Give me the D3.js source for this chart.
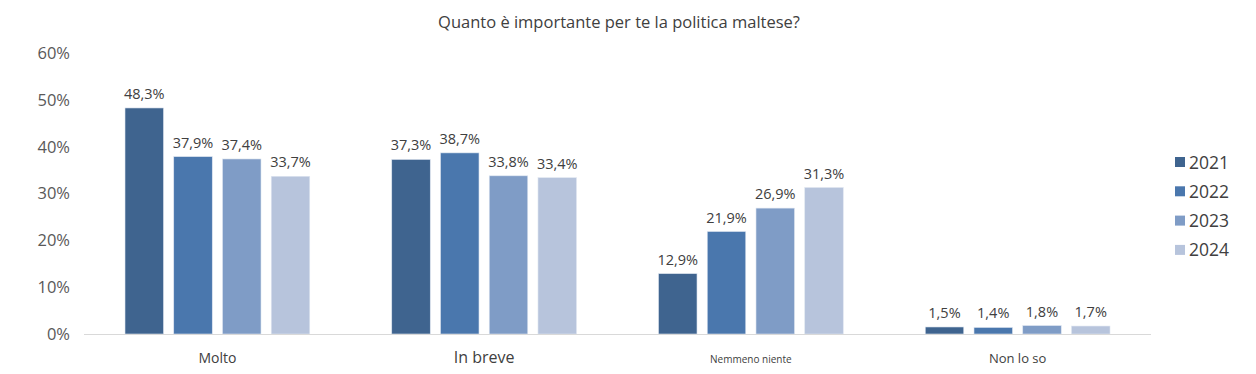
<!DOCTYPE html>
<html><head><meta charset="utf-8">
<script src="https://cdn.jsdelivr.net/npm/d3@7"></script>
<style>body{margin:0;background:#fff}svg{display:block;font-family:"Open Sans",sans-serif}</style>
</head><body><svg id="c" width="1256" height="374"></svg>
<script>
const categories = ["Molto", "In breve", "Nemmeno niente", "Non lo so"];
const years = ["2021", "2022", "2023", "2024"];
const v2021 = [48.3, 37.3, 12.9, 1.5];
const v2022 = [37.9, 38.7, 21.9, 1.4];
const v2023 = [37.4, 33.8, 26.9, 1.8];
const v2024 = [33.7, 33.4, 31.3, 1.7];
const yTicks = [0, 10, 20, 30, 40, 50, 60];
const catFontSizes = [14, 16, 10, 13];
const colors = ["#3F648F", "#4A77AD", "#7F9CC6", "#B7C4DC"];
const series = [v2021, v2022, v2023, v2024];

const svg = d3.select("#c");
const L = 84, R = 1151, T = 53.2, B = 334;
const x0 = d3.scaleBand().domain(categories).range([L, R]).padding(0);
const x1 = d3.scaleBand().domain(years).range([41, x0.bandwidth() - 41]).paddingInner(0.21).paddingOuter(0);
const y = d3.scaleLinear().domain([0, 60]).range([B, T]);
const fmt = v => d3.format(".1f")(v).replace(".", ",") + "%";

svg.append("text").attr("x", 619).attr("y", 28).attr("text-anchor", "middle")
  .attr("font-size", 16.5).attr("fill", "#404040").text("Quanto è importante per te la politica maltese?");

const yAxis = d3.axisLeft(y).tickValues(yTicks).tickSize(0).tickPadding(14).tickFormat(d => d + "%");
const ga = svg.append("g").attr("transform", `translate(${L},0)`).call(yAxis);
ga.select(".domain").remove();
ga.selectAll("text").attr("font-size", 16.5).attr("fill", "#595959").attr("font-family", "Open Sans, sans-serif");

const g = svg.append("g");
categories.forEach((c, ci) => {
  const gc = g.append("g").attr("transform", `translate(${x0(c)},0)`);
  years.forEach((yr, si) => {
    const v = series[si][ci];
    gc.append("rect").attr("x", x1(yr)).attr("y", y(v)).attr("width", x1.bandwidth())
      .attr("height", B - y(v)).attr("fill", colors[si]).attr("stroke", "#dfe6f0").attr("stroke-width", 0.6);
    gc.append("text").attr("x", x1(yr) + x1.bandwidth() / 2).attr("y", y(v) - 9)
      .attr("text-anchor", "middle").attr("font-size", 14.5).attr("fill", "#404040").text(fmt(v));
  });
  svg.append("text").attr("x", x0(c) + x0.bandwidth() / 2).attr("y", 363).attr("text-anchor", "middle")
    .attr("font-size", catFontSizes[ci]).attr("fill", "#404040").text(c);
});

svg.append("line").attr("x1", L).attr("x2", R).attr("y1", B + 0.5).attr("y2", B + 0.5)
  .attr("stroke", "#d9d9d9").attr("stroke-width", 1.2);

const lg = svg.append("g");
years.forEach((yr, i) => {
  const yy = 162 + i * 29.3;
  lg.append("rect").attr("x", 1175).attr("y", yy - 5).attr("width", 10).attr("height", 10).attr("fill", colors[i]);
  lg.append("text").attr("x", 1189).attr("y", yy + 6.5).attr("font-size", 17.5).attr("fill", "#404040").text(yr);
});
</script></body></html>
